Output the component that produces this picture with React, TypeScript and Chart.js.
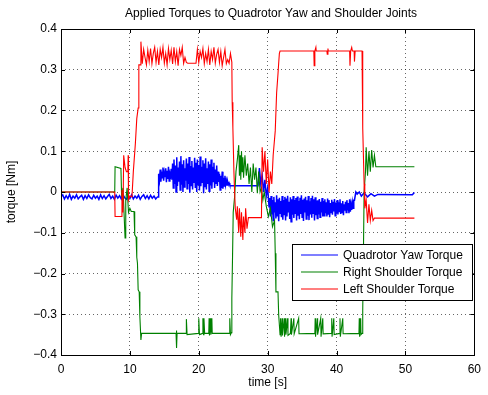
import React, { useEffect, useRef } from "react";
import { Chart, registerables } from "chart.js";

Chart.register(...registerables);

type P = [number, number];

// ---------- Axis ticks ----------
const xTickValues = [0, 10, 20, 30, 40, 50, 60];
const yTickValues = [-0.4, -0.3, -0.2, -0.1, 0, 0.1, 0.2, 0.3, 0.4];

const titleText = "Applied Torques to Quadrotor Yaw and Shoulder Joints";
const xTitle = "time [s]";
const yTitle = "torque [Nm]";
const seriesNames = ["Quadrotor Yaw Torque", "Right Shoulder Torque", "Left Shoulder Torque"];
const seriesColors = ["#0000ff", "#008000", "#ff0000"];

// ---------- Quadrotor yaw torque (blue) ----------
const yawQuiet = [-0.012, -0.007, -0.017, -0.009, -0.016, -0.006, -0.018, -0.01, -0.015, -0.007, -0.017, -0.012, -0.008, -0.018, -0.009, -0.016, -0.007, -0.014, -0.017, -0.008, -0.015, -0.01, -0.018, -0.007, -0.016, -0.009, -0.017, -0.011, -0.006, -0.016, -0.01, -0.018, -0.008, -0.015, -0.009, -0.017, -0.007, -0.014, -0.018, -0.009, -0.016, -0.007, -0.017, -0.01, -0.015, -0.008, -0.018, -0.011, -0.007, -0.016, -0.009, -0.017, -0.008, -0.015, -0.01, -0.017, -0.012];
const yawRiseA = [0.045, 0.03, 0.055, 0.025, 0.05, 0.035, 0.06, 0.028, 0.048, 0.038, 0.058, 0.024, 0.052, 0.032, 0.062, 0.027, 0.046, 0.04, 0.057, 0.03];
const yawRiseB = [0.07, 0.01, 0.08, 0.02, 0.065, 0.0, 0.085, 0.015, 0.06, 0.025, 0.075, 0.005, 0.088, 0.018, 0.068, 0.0, 0.078, 0.012, 0.058, 0.028, 0.082, 0.008, 0.07, 0.02, 0.086, -0.002, 0.064, 0.016, 0.076, 0.006, 0.06, 0.022, 0.084, 0.01, 0.072, 0.0, 0.08, 0.018, 0.066, 0.004, 0.087, 0.014, 0.062, 0.024, 0.078, -0.003, 0.07, 0.012, 0.083, 0.006, 0.058, 0.02, 0.075, 0.002, 0.068, 0.016, 0.08, 0.008, 0.062, 0.026, 0.072, 0.01, 0.055, 0.02, 0.065, 0.015, 0.05, 0.025];
const yawSettle = [0.045, 0.005, 0.04, 0.01, 0.05, 0.008, 0.035, 0.015, 0.04, 0.018, 0.028, 0.017, 0.025, 0.018, 0.022, 0.017, 0.016];
const yawMid: P[] = [[24.7, 0.0155], [28.6, 0.0155], [28.8, 0.059], [29.0, 0.02], [29.2, 0.04], [29.4, 0.0], [29.6, 0.03], [29.8, -0.01], [30.0, 0.01], [30.2, -0.036]];
const yawDip = [-0.015, -0.06, -0.01, -0.055, -0.02, -0.07, -0.012, -0.05, -0.025, -0.065, -0.008, -0.058, -0.018, -0.072, -0.014, -0.052, -0.022, -0.062, -0.01, -0.068, -0.02, -0.055, -0.012, -0.07, -0.016, -0.06, -0.009, -0.05, -0.024, -0.066, -0.013, -0.073, -0.018, -0.056, -0.01, -0.064, -0.02, -0.052, -0.015, -0.07, -0.011, -0.058, -0.022, -0.067, -0.014, -0.054, -0.008, -0.062, -0.019, -0.071, -0.016, -0.05, -0.012, -0.066, -0.02, -0.058, -0.01, -0.069, -0.023, -0.055, -0.015, -0.063, -0.009, -0.052, -0.018, -0.07, -0.013, -0.057, -0.021, -0.065, -0.02, -0.055, -0.017, -0.062, -0.024, -0.05, -0.015, -0.06, -0.022, -0.058, -0.018, -0.052, -0.025, -0.06, -0.016, -0.054, -0.02, -0.062, -0.027, -0.05, -0.019, -0.056, -0.024, -0.048, -0.017, -0.058, -0.026, -0.052, -0.02, -0.055, -0.025, -0.048, -0.018, -0.054, -0.028, -0.05, -0.022, -0.057, -0.03, -0.046, -0.024, -0.05, -0.02, -0.045, -0.027, -0.052, -0.018, -0.048, -0.03, -0.044, -0.026, -0.04, -0.02];
const yawTail: P[] = [[42.6, -0.02], [42.8, 0.0], [43.0, -0.005], [43.3, 0.0], [43.6, -0.01], [44.0, -0.002], [44.5, -0.012], [45.0, -0.004], [45.5, -0.01], [46.0, -0.006], [51.0, -0.007], [51.3, -0.001]];

// ---------- Right shoulder torque (green) ----------
const rightPoints: P[] = [
  [0, 0], [7.8, 0], [7.85, 0.062], [8.7, 0.058], [8.8, -0.012], [9.0, 0.01], [9.1, -0.03], [9.3, -0.113], [9.4, -0.02], [9.6, 0.01], [9.8, -0.05], [10.0, -0.04], [10.2, -0.048], [10.6, -0.048], [10.7, -0.105], [10.9, -0.11], [11.0, -0.16], [11.1, -0.175], [11.2, -0.24], [11.35, -0.245], [11.45, -0.306], [11.6, -0.363], [11.7, -0.347],
  [16.7, -0.347], [16.75, -0.34], [16.8, -0.383], [16.85, -0.347], [18.15, -0.347], [18.2, -0.312], [18.3, -0.35], [19.95, -0.347], [20.0, -0.31], [20.1, -0.35], [20.55, -0.347], [20.6, -0.31], [20.7, -0.35], [20.75, -0.31], [20.85, -0.347], [21.45, -0.347], [21.5, -0.31], [21.55, -0.352], [21.7, -0.31], [21.75, -0.35], [21.9, -0.31], [21.95, -0.347], [24.45, -0.347], [24.5, -0.31], [24.6, -0.35], [24.75, -0.345],
  [24.8, -0.26], [24.9, -0.16], [25.0, -0.05], [25.2, -0.012], [25.4, 0.05], [25.6, 0.08], [25.8, 0.115], [25.9, 0.04], [26.0, 0.09], [26.1, 0.03], [26.2, 0.1], [26.3, 0.05], [26.4, 0.085], [26.5, 0.035], [26.7, 0.09], [26.9, 0.04], [27.1, 0.07], [27.3, 0.02], [27.5, 0.06], [27.7, 0.0], [27.9, 0.07], [28.1, 0.03], [28.3, 0.06], [28.5, -0.003], [28.7, 0.05], [28.9, 0.0], [29.1, 0.01], [29.3, -0.02], [29.5, 0.0], [29.8, -0.035], [30.1, -0.06], [30.4, -0.04], [30.7, -0.085], [31.0, -0.07],
  [31.1, -0.15], [31.2, -0.245], [31.5, -0.245], [31.6, -0.302], [31.8, -0.35], [31.85, -0.347],
  [31.9, -0.31], [31.95, -0.355], [32.1, -0.31], [32.15, -0.352], [32.4, -0.31], [32.45, -0.355], [32.6, -0.31], [32.65, -0.35], [32.9, -0.31], [32.95, -0.352], [33.3, -0.347], [33.4, -0.31], [33.45, -0.35], [33.8, -0.31], [33.85, -0.348], [34.5, -0.31], [34.55, -0.348],
  [36.85, -0.347], [36.9, -0.31], [36.95, -0.355], [37.2, -0.31], [37.25, -0.35], [37.7, -0.31], [37.75, -0.355], [38.0, -0.31], [38.05, -0.348], [39.25, -0.347], [39.3, -0.31], [39.35, -0.355], [39.6, -0.31], [39.65, -0.35], [40.45, -0.347], [40.5, -0.31], [40.55, -0.355], [40.9, -0.31], [40.95, -0.348], [43.25, -0.347], [43.3, -0.31], [43.35, -0.355], [43.5, -0.31], [43.55, -0.35], [43.7, -0.347],
  [43.8, -0.29], [43.9, -0.15], [44.0, 0.0], [44.2, 0.05], [44.3, 0.11], [44.5, 0.04], [44.7, 0.1], [44.9, 0.05], [45.1, 0.103], [45.3, 0.06], [45.5, 0.09], [45.7, 0.062], [51.3, 0.062],
];

// ---------- Left shoulder torque (red) ----------
const leftStart: P[] = [
  [0, 0], [7.8, 0], [7.85, -0.06], [8.8, -0.06], [8.85, 0.005], [9.0, -0.05], [9.1, 0.09], [9.3, 0.06], [9.5, 0.05], [9.7, 0.05], [9.75, 0.09], [9.8, -0.02], [10.0, -0.01], [10.3, -0.012], [10.5, 0.05], [10.8, 0.12], [11.0, 0.18], [11.2, 0.206], [11.3, 0.312], [11.5, 0.312],
];
const leftPlateauA = [0.369, 0.315, 0.35, 0.33, 0.312, 0.348, 0.32, 0.352, 0.315, 0.34, 0.355, 0.318, 0.345, 0.312, 0.35, 0.33, 0.355, 0.316, 0.34, 0.312, 0.352, 0.325, 0.348, 0.314, 0.355, 0.32, 0.345, 0.31, 0.35, 0.335, 0.355, 0.316, 0.33, 0.318, 0.316, 0.316];
const leftPlateauB = [0.316, 0.35, 0.318, 0.345, 0.33, 0.352, 0.315, 0.34, 0.32, 0.35, 0.312, 0.345, 0.325, 0.355, 0.316, 0.338, 0.35, 0.318, 0.345, 0.31, 0.33, 0.35, 0.315, 0.325, 0.316, 0.34, 0.318];
const leftEnd: P[] = [
  [24.8, 0.316], [24.85, 0.22], [24.95, 0.157], [25.1, 0.05], [25.2, 0.0], [25.3, -0.04], [25.5, -0.068], [25.6, -0.035], [25.8, -0.1], [25.9, -0.04], [26.1, -0.11], [26.2, -0.05], [26.4, -0.118], [26.5, -0.06], [26.7, -0.1], [26.8, -0.04], [27.0, -0.09], [27.2, -0.063], [29.1, -0.063], [29.2, 0.11], [29.4, 0.05], [29.6, 0.1], [29.8, 0.02], [30.0, 0.08], [30.2, 0.0], [30.4, 0.05], [30.6, 0.02], [30.8, 0.09], [31.1, 0.15], [31.3, 0.243], [31.5, 0.29], [31.6, 0.316], [31.7, 0.34], [31.8, 0.346],
  [36.7, 0.346], [36.75, 0.31], [36.85, 0.346], [37.0, 0.355], [37.05, 0.346], [38.6, 0.346], [38.65, 0.338], [38.75, 0.352], [38.8, 0.346], [41.9, 0.346], [41.95, 0.31], [42.05, 0.346], [42.2, 0.355], [42.3, 0.346], [42.55, 0.346], [42.6, 0.32], [42.7, 0.346], [43.7, 0.346],
  [43.8, 0.157], [44.0, 0.02], [44.1, -0.04], [44.3, -0.02], [44.5, -0.076], [44.7, -0.03], [44.9, -0.07], [45.1, -0.045], [45.3, -0.07], [45.5, -0.064], [51.3, -0.064],
];

function seg(start: number, step: number, values: number[]) {
  return values.map((v, i) => ({ x: +(start + i * step).toFixed(3), y: v }));
}
function pts(list: P[]) {
  return list.map(([x, y]) => ({ x, y }));
}

const yawData = [
  ...seg(0, 0.25, yawQuiet),
  { x: 14.1, y: -0.012 },
  { x: 14.15, y: 0.037 },
  ...seg(14.2, 0.1, yawRiseA),
  ...seg(16.2, 0.1, yawRiseB),
  ...seg(23.0, 0.1, yawSettle),
  ...pts(yawMid),
  ...seg(30.3, 0.1, yawDip),
  ...pts(yawTail),
];
const rightData = pts(rightPoints);
const leftData = [
  ...pts(leftStart),
  ...seg(11.6, 0.2, leftPlateauA),
  ...seg(19.6, 0.2, leftPlateauB),
  ...pts(leftEnd),
];

const FONT = '"Liberation Sans", Arial, Helvetica, sans-serif';

function fmtY(v: number) {
  if (Math.abs(v) < 1e-9) return "0";
  return (v < 0 ? "\u2212" : "") + Math.abs(v).toFixed(1);
}

const decor = {
  id: "decor",
  beforeDraw(chart: any) {
    const c = chart.ctx;
    c.save();
    c.fillStyle = "#ffffff";
    c.fillRect(0, 0, chart.width, chart.height);
    c.restore();
  },
  afterDatasetsDraw(chart: any) {
    const c = chart.ctx;
    const a = chart.chartArea;
    const xs = chart.scales.x;
    const ys = chart.scales.y;
    c.save();
    c.strokeStyle = "#000";
    c.lineWidth = 1;
    c.strokeRect(Math.round(a.left) + 0.5, Math.round(a.top) + 0.5, Math.round(a.right - a.left), Math.round(a.bottom - a.top));
    const tl = 4;
    c.beginPath();
    xTickValues.forEach((t) => {
      const px = Math.round(xs.getPixelForValue(t)) + 0.5;
      c.moveTo(px, a.bottom);
      c.lineTo(px, a.bottom - tl);
      c.moveTo(px, a.top);
      c.lineTo(px, a.top + tl);
    });
    yTickValues.forEach((t) => {
      const py = Math.round(ys.getPixelForValue(t)) + 0.5;
      c.moveTo(a.left, py);
      c.lineTo(a.left + tl, py);
      c.moveTo(a.right, py);
      c.lineTo(a.right - tl, py);
    });
    c.stroke();

    // legend
    const lx = 292.5, ly = 244.5, lw = 180, lh = 56;
    c.fillStyle = "#fff";
    c.fillRect(lx, ly, lw, lh);
    c.strokeStyle = "#000";
    c.strokeRect(lx, ly, lw, lh);
    c.font = `12px ${FONT}`;
    c.textBaseline = "middle";
    c.textAlign = "left";
    const rows = [255, 272, 289];
    seriesNames.forEach((name, i) => {
      c.strokeStyle = seriesColors[i];
      c.lineWidth = 1.2;
      c.beginPath();
      c.moveTo(301, rows[i]);
      c.lineTo(338, rows[i]);
      c.stroke();
      c.fillStyle = "#000";
      c.fillText(name, 343, rows[i] + 1);
    });
    c.restore();
  },
  afterDraw(chart: any) {
    const c = chart.ctx;
    const a = chart.chartArea;
    c.save();
    c.fillStyle = "#000";
    c.font = `12px ${FONT}`;
    c.textAlign = "center";
    c.textBaseline = "middle";
    c.fillText(titleText, 271, 14);
    c.fillText(xTitle, (a.left + a.right) / 2, 383);
    c.translate(12, (a.top + a.bottom) / 2);
    c.rotate(-Math.PI / 2);
    c.fillText(yTitle, 0, 0);
    c.restore();
  },
};

export default function App() {
  const ref = useRef<HTMLCanvasElement | null>(null);
  useEffect(() => {
    document.body.style.margin = "0";
    if (!ref.current) return;
    const chart = new Chart(ref.current, {
      type: "line",
      data: {
        datasets: [
          { label: seriesNames[0], data: yawData, borderColor: seriesColors[0], borderWidth: 1.5, pointRadius: 0, tension: 0, order: 2 },
          { label: seriesNames[1], data: rightData, borderColor: seriesColors[1], borderWidth: 1.1, pointRadius: 0, tension: 0, order: 1 },
          { label: seriesNames[2], data: leftData, borderColor: seriesColors[2], borderWidth: 1.1, pointRadius: 0, tension: 0, order: 0 },
        ],
      },
      options: {
        animation: false,
        responsive: false,
        parsing: false as any,
        normalized: true,
        layout: { padding: { top: 29, right: 10, left: 0, bottom: 0 } },
        plugins: { legend: { display: false }, tooltip: { enabled: false }, title: { display: false } },
        events: [],
        scales: {
          x: {
            type: "linear",
            min: 0,
            max: 60,
            afterBuildTicks: (s: any) => {
              s.ticks = xTickValues.map((v) => ({ value: v }));
            },
            ticks: { color: "#000", font: { family: FONT, size: 12 }, padding: 7, maxRotation: 0, callback: (v: any) => String(v) },
            grid: { drawTicks: false, color: "rgba(0,0,0,0.6)", lineWidth: 1 },
            border: { display: false, dash: [1, 3] },
            afterFit: (s: any) => {
              s.height = 40;
            },
          },
          y: {
            type: "linear",
            min: -0.4,
            max: 0.4,
            afterBuildTicks: (s: any) => {
              s.ticks = yTickValues.map((v) => ({ value: v }));
            },
            ticks: { color: "#000", font: { family: FONT, size: 12 }, padding: 4, callback: (v: any) => fmtY(Number(v)) },
            grid: { drawTicks: false, color: "rgba(0,0,0,0.6)", lineWidth: 1 },
            border: { display: false, dash: [1, 3] },
            afterFit: (s: any) => {
              s.width = 61;
            },
          },
        },
      },
      plugins: [decor],
    });
    return () => chart.destroy();
  }, []);
  return (
    <div style={{ width: 488, height: 395 }}>
      <canvas ref={ref} width={488} height={395} style={{ display: "block" }} />
    </div>
  );
}
